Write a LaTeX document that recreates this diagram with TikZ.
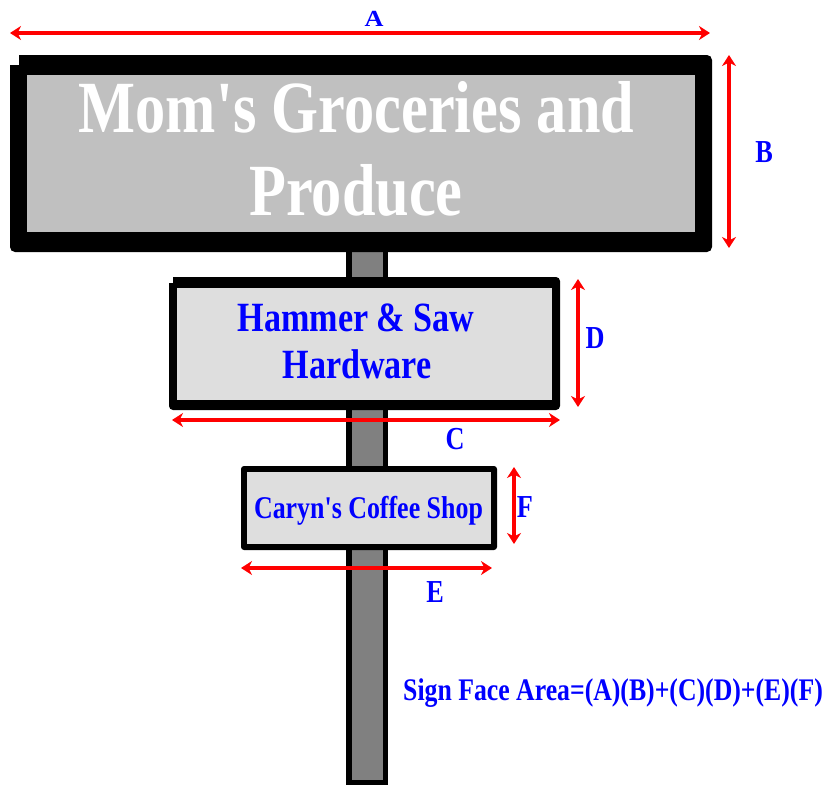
\documentclass[tikz,border=0pt]{standalone}
\usepackage{fontspec}
\setmainfont{Liberation Serif}[FakeStretch=0.82, Ligatures=TeXOff]
\usetikzlibrary{arrows.meta}
\definecolor{bigface}{RGB}{192,192,192}
\definecolor{smallface}{RGB}{222,222,222}
\definecolor{polegrey}{RGB}{128,128,128}
\definecolor{dimred}{RGB}{255,0,0}
\definecolor{txtblue}{RGB}{0,0,255}
\tikzset{
  dimline/.style={draw=dimred, line width=3.5pt, {Stealth[length=11pt,width=14pt,inset=3.5pt]}-{Stealth[length=11pt,width=14pt,inset=3.5pt]}},
  lbl/.style={inner sep=0pt, anchor=base, text=txtblue, font=\fontsize{32}{36}\selectfont\bfseries},
  bigtxt/.style={inner sep=0pt, anchor=base, text=white, font=\fontsize{73.6}{83}\selectfont\bfseries},
  midtxt/.style={inner sep=0pt, anchor=base, text=txtblue, font=\fontsize{41.6}{47}\selectfont\bfseries},
  smalltxt/.style={inner sep=0pt, anchor=base, text=txtblue, font=\fontsize{31.6}{36}\selectfont\bfseries},
  formtxt/.style={inner sep=0pt, anchor=base west, text=txtblue, font=\fontsize{31.4}{36}\selectfont\bfseries},
}
\begin{document}
\begin{tikzpicture}[x=1pt,y=-1pt]
\useasboundingbox (0,0) rectangle (831,785);
% pole
\fill[black] (346,250) rectangle (388,785);
\fill[polegrey] (352,250) rectangle (383,780);
% big sign
\fill[black, rounded corners=5pt] (10,55) rectangle (712,252);
\fill[white] (9,54) rectangle (19,65);
\fill[bigface] (27,75) rectangle (695,232);
% middle sign
\fill[black, rounded corners=4pt] (169,277) rectangle (560,410);
\fill[white] (168,276) rectangle (173,283);
\fill[smallface] (177,288) rectangle (552,400);
% small sign
\fill[black, rounded corners=3pt] (241,466) rectangle (497,550);
\fill[smallface] (247,472) rectangle (491,544);
% texts
\node[bigtxt] (big1) at (356.5,132) {Mom's Groceries and};
\node[bigtxt] (big2) at (356,215) {Produce};
\node[midtxt] (mid1) at (356,331) {Hammer \& Saw};
\node[midtxt] (mid2) at (357,378) {Hardware};
\node[smalltxt] (sm) at (368.5,518) {Caryn's Coffee Shop};
\node[formtxt] (formula) at (403,700) {Sign Face Area=(A)(B)+(C)(D)+(E)(F)};
% dimension coordinates
\coordinate (a1) at (10,33);  \coordinate (a2) at (710,33);
\coordinate (b1) at (729,55); \coordinate (b2) at (729,248);
\coordinate (c1) at (172,420); \coordinate (c2) at (560,420);
\coordinate (d1) at (578,279); \coordinate (d2) at (578,407);
\coordinate (e1) at (241,568); \coordinate (e2) at (492,568);
\coordinate (f1) at (514,467); \coordinate (f2) at (514,544);
\draw[dimline] (a1) -- (a2);
\draw[dimline] (b1) -- (b2);
\draw[dimline] (c1) -- (c2);
\draw[dimline] (d1) -- (d2);
\draw[dimline] (e1) -- (e2);
\draw[dimline] (f1) -- (f2);
% labels
\node[lbl] (la) at (374,26) {\scalebox{1}[0.72]{A}};
\node[lbl] (lb) at (764,162) {B};
\node[lbl] (lc) at (455,449) {C};
\node[lbl] (ld) at (595,348) {D};
\node[lbl] (le) at (435,602) {E};
\node[lbl] (lf) at (525,517) {F};
\end{tikzpicture}
\end{document}
